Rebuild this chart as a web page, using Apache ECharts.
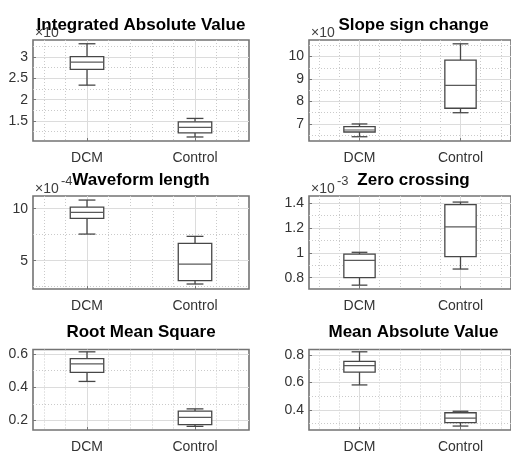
<!DOCTYPE html>
<html>
<head>
<meta charset="utf-8">
<title>EMG features: DCM vs Control</title>
<script src="https://cdn.jsdelivr.net/npm/echarts@6/dist/echarts.min.js"></script>
<style>
  html, body { margin: 0; padding: 0; background: #ffffff; }
  #chart { width: 511px; height: 454px; }
</style>
</head>
<body>
<div id="chart"></div>
<script>
// Groups on every x axis
const groups = ['DCM', 'Control'];

// Panel titles
const titles = [
  'Integrated Absolute Value', 'Slope sign change',
  'Waveform length', 'Zero crossing',
  'Root Mean Square', 'Mean Absolute Value'
];

// Box summaries: [lower whisker, Q1, median, Q3, upper whisker] (in axis units)
const iavDCM      = [2.34, 2.71, 2.88, 3.01, 3.31];
const iavControl  = [1.125, 1.22, 1.35, 1.48, 1.56];
const sscDCM      = [6.43, 6.64, 6.73, 6.88, 7.00];
const sscControl  = [7.50, 7.70, 8.72, 9.84, 10.57];
const wlDCM       = [7.56, 9.07, 9.65, 10.16, 10.83];
const wlControl   = [2.76, 3.08, 4.68, 6.67, 7.34];
const zcDCM       = [0.74, 0.80, 0.94, 0.99, 1.005];
const zcControl   = [0.87, 0.97, 1.21, 1.39, 1.41];
const rmsDCM      = [0.435, 0.49, 0.54, 0.572, 0.613];
const rmsControl  = [0.165, 0.175, 0.219, 0.257, 0.27];
const mavDCM      = [0.583, 0.678, 0.725, 0.757, 0.827];
const mavControl  = [0.28, 0.305, 0.339, 0.378, 0.389];

// Y ranges and ticks per panel
const yRanges = [[1.031, 3.398], [6.24, 10.74], [2.28, 11.22], [0.709, 1.459], [0.143, 0.627], [0.251, 0.844]];
const yMajor = [[1.5, 2, 2.5, 3], [7, 8, 9, 10], [5, 10], [0.8, 1, 1.2, 1.4], [0.2, 0.4, 0.6], [0.4, 0.6, 0.8]];
const yMinor = [[1.25, 1.75, 2.25, 2.75, 3.25], [6.5, 7.5, 8.5, 9.5, 10.5], [2.5, 7.5], [0.9, 1.1, 1.3], [0.3, 0.5], [0.3, 0.5, 0.7]];
const xMajor = [1, 2];
const xMinor = [0.6, 0.8, 1.2, 1.4, 1.6, 1.8, 2.2, 2.4];

// Axis exponent labels ("×10" with superscript)
const expBase = ['×10', '×10', '×10', '×10', '', ''];
const expPow  = ['', '', '-4', '-3', '', ''];

const panels = [
  [iavDCM, iavControl], [sscDCM, sscControl],
  [wlDCM, wlControl], [zcDCM, zcControl],
  [rmsDCM, rmsControl], [mavDCM, mavControl]
];

// Layout of the six axes boxes (px)
const colLeft = [33, 309], colWidth = [216, 211];
const rowTop = [40, 196, 349.5], rowHeight = [101, 93, 87.5];
const titleTop = [16.5, 172, 324];

const FONT = '"Liberation Sans", Arial, sans-serif';
const LABEL_COLOR = '#333333';
const MAJOR_GRID = '#dcdcdc';
const MINOR_GRID = '#cacaca';
const BOX_COLOR = '#474747';

function fmt(v) { return String(parseFloat(Number(v).toFixed(3))); }

function renderBox(params, api) {
  const x = api.value(0);
  const p = [1, 2, 3, 4, 5].map(d => api.coord([x, api.value(d)]));
  const unit = api.size([1, 0])[0];
  const cx = p[0][0];
  const bw = unit * 0.155, cw = unit * 0.078;
  const ls = { stroke: BOX_COLOR, lineWidth: 1.3, fill: null };
  return {
    type: 'group',
    children: [
      { type: 'line', shape: { x1: cx, y1: p[3][1], x2: cx, y2: p[4][1] }, style: ls },
      { type: 'line', shape: { x1: cx, y1: p[1][1], x2: cx, y2: p[0][1] }, style: ls },
      { type: 'line', shape: { x1: cx - cw, y1: p[4][1], x2: cx + cw, y2: p[4][1] }, style: ls },
      { type: 'line', shape: { x1: cx - cw, y1: p[0][1], x2: cx + cw, y2: p[0][1] }, style: ls },
      { type: 'rect', shape: { x: cx - bw, y: p[3][1], width: 2 * bw, height: p[1][1] - p[3][1] },
        style: { stroke: BOX_COLOR, lineWidth: 1.3, fill: '#ffffff' } },
      { type: 'line', shape: { x1: cx - bw, y1: p[2][1], x2: cx + bw, y2: p[2][1] },
        style: { stroke: '#5a5a5a', lineWidth: 1.2, fill: null } }
    ]
  };
}

const grid = [], xAxis = [], yAxis = [], series = [], title = [], graphic = [];

panels.forEach((pair, i) => {
  const r = Math.floor(i / 2), c = i % 2;
  grid.push({
    left: colLeft[c], top: rowTop[r], width: colWidth[c], height: rowHeight[r],
    show: true, borderColor: '#737373', borderWidth: 1.6, backgroundColor: '#ffffff',
    containLabel: false
  });
  // minor x grid
  xAxis.push({
    gridIndex: i, type: 'value', min: 0.5, max: 2.5, position: 'top', z: 1,
    axisLine: { show: false }, axisLabel: { show: false },
    axisTick: { show: false, customValues: xMinor },
    splitLine: { show: true, lineStyle: { color: MINOR_GRID, width: 1, type: [1, 2] } }
  });
  // major x axis with group labels
  xAxis.push({
    gridIndex: i, type: 'value', min: 0.5, max: 2.5, position: 'bottom', z: 2,
    axisLine: { show: false },
    axisTick: { show: true, inside: true, length: 3, customValues: xMajor, lineStyle: { color: '#777777' } },
    axisLabel: {
      customValues: xMajor, margin: 10, fontSize: 14, fontFamily: FONT, color: LABEL_COLOR,
      formatter: v => groups[Math.round(v) - 1]
    },
    splitLine: { show: true, lineStyle: { color: MAJOR_GRID, width: 1 } }
  });
  // minor y grid
  yAxis.push({
    gridIndex: i, type: 'value', min: yRanges[i][0], max: yRanges[i][1], position: 'right', z: 1,
    axisLine: { show: false }, axisLabel: { show: false },
    axisTick: { show: false, customValues: yMinor[i] },
    splitLine: { show: true, lineStyle: { color: MINOR_GRID, width: 1, type: [1, 2] } }
  });
  // major y axis
  yAxis.push({
    gridIndex: i, type: 'value', min: yRanges[i][0], max: yRanges[i][1], position: 'left', z: 2,
    axisLine: { show: false },
    axisTick: { show: true, inside: true, length: 3, customValues: yMajor[i], lineStyle: { color: '#777777' } },
    axisLabel: {
      customValues: yMajor[i], margin: 5, fontSize: 14, fontFamily: FONT, color: LABEL_COLOR,
      formatter: fmt
    },
    splitLine: { show: true, lineStyle: { color: MAJOR_GRID, width: 1 } }
  });
  series.push({
    type: 'custom', xAxisIndex: 2 * i + 1, yAxisIndex: 2 * i + 1, z: 5, clip: false,
    encode: { x: 0, y: [1, 2, 3, 4, 5] },
    data: pair.map((s, k) => [k + 1].concat(s)),
    renderItem: renderBox
  });
  title.push({
    text: titles[i], left: colLeft[c] + colWidth[c] / 2 - (c ? 1 : 0), top: titleTop[r],
    textAlign: 'center', padding: 0, z: 8,
    textStyle: { fontSize: 17, fontWeight: 'bold', fontFamily: FONT, color: '#000000' }
  });
  if (expBase[i]) {
    const ex = colLeft[c] + 2, ey = rowTop[r] - 8;
    graphic.push({
      type: 'text', left: ex, top: ey - 6, z: 0,
      style: { text: expBase[i], font: '14px ' + FONT, fill: '#404040' }
    });
    if (expPow[i]) {
      graphic.push({
        type: 'text', left: ex + 26, top: ey - 13, z: 0,
        style: { text: expPow[i], font: '13px ' + FONT, fill: '#404040' }
      });
    }
  }
});

const chart = echarts.init(document.getElementById('chart'), null, { renderer: 'canvas' });
chart.setOption({
  animation: false,
  backgroundColor: '#ffffff',
  title, grid, xAxis, yAxis, series, graphic
});
</script>
</body>
</html>
